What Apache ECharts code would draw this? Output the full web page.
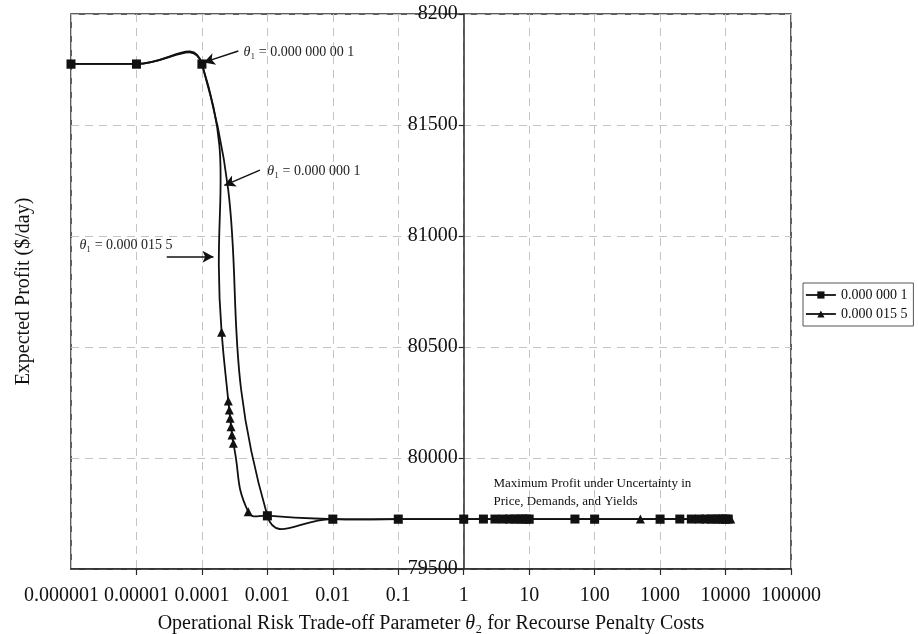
<!DOCTYPE html>
<html>
<head>
<meta charset="utf-8">
<script src="https://cdn.jsdelivr.net/npm/echarts@6/dist/echarts.min.js"></script>
<style>
html,body{margin:0;padding:0;background:#fff;}
#chart{width:918px;height:634px;}
</style>
</head>
<body>
<div id="chart"></div>
<script>
// ---- data ----
const seriesNames = ['0.000 000 1', '0.000 015 5'];
const squareX = [1e-6, 1e-5, 1e-4, 1e-3, 0.01, 0.1, 1, 2, 3, 4, 5, 6, 7, 8, 9, 10, 50, 100, 1000, 2000, 3000, 4000, 5000, 6000, 7000, 8000, 9000, 10000, 11000];
const squareY = [81775, 81775, 81775, 79740, 79725, 79725, 79725, 79725, 79725, 79725, 79725, 79725, 79725, 79725, 79725, 79725, 79725, 79725, 79725, 79725, 79725, 79725, 79725, 79725, 79725, 79725, 79725, 79725, 79725];
const triangleX = [1e-6, 1e-5, 1e-4, 2.0e-4, 2.53e-4, 2.62e-4, 2.7e-4, 2.79e-4, 2.88e-4, 3.02e-4, 5.1e-4, 1e-3, 0.01, 0.1, 1, 10, 100, 500, 1000, 10000, 12000];
const triangleY = [81775, 81775, 81775, 80566, 80257, 80216, 80179, 80141, 80104, 80066, 79758, 79740, 79725, 79725, 79725, 79725, 79725, 79725, 79725, 79725, 79725];
const xTickLabels = ['0.000001', '0.00001', '0.0001', '0.001', '0.01', '0.1', '1', '10', '100', '1000', '10000', '100000'];
const yTickLabels = ['79500', '80000', '80500', '81000', '81500', '8200'];
const annotationTexts = ['0.000 000 00 1', '0.000 000 1', '0.000 015 5'];
const noteLines = ['Maximum Profit under Uncertainty in', 'Price, Demands, and Yields'];

// ---- layout / style ----
const SERIF = '"Liberation Serif", "Times New Roman", serif';
const G = {left: 71, right: 127, top: 14, bottom: 65};
const gridW = 918 - G.left - G.right;
const yAxisOffset = -gridW * 6 / 11;
const INK = '#111';
const SMOOTH = 0.5;

function zip(xs, ys) { return xs.map((x, i) => [x, ys[i]]); }
function xIndex(v) { return Math.round(Math.log10(v)) + 6; }

// Spreadsheet-style smoothed curve drawn through the data points (via the axes' scales)
function smoothRenderer(xs, ys) {
  return function (params, api) {
    const i = params.dataIndex;
    const n = xs.length;
    if (i >= n - 1) return null;
    const P = k => { const j = Math.max(0, Math.min(n - 1, k)); return api.coord([xs[j], ys[j]]); };
    const dist = (a, b) => Math.hypot(a[0] - b[0], a[1] - b[1]);
    function ctrl(k) {
      const p = P(k), prev = P(k - 1), next = P(k + 1);
      const vx = (next[0] - prev[0]) * SMOOTH, vy = (next[1] - prev[1]) * SMOOTH;
      let d0 = dist(p, prev), d1 = dist(p, next);
      const s = d0 + d1;
      if (s > 0) { d0 /= s; d1 /= s; }
      return {inn: [p[0] - vx * d0, p[1] - vy * d0], out: [p[0] + vx * d1, p[1] + vy * d1], p: p};
    }
    const a = ctrl(i), b = ctrl(i + 1);
    return {
      type: 'bezierCurve',
      shape: {x1: a.p[0], y1: a.p[1], x2: b.p[0], y2: b.p[1], cpx1: a.out[0], cpy1: a.out[1], cpx2: b.inn[0], cpy2: b.inn[1]},
      style: {stroke: INK, lineWidth: 1.8, fill: null},
      silent: true
    };
  };
}

const thetaRich = {
  it: {fontFamily: SERIF, fontStyle: 'italic', fontSize: 14, color: '#222'},
  n: {fontFamily: SERIF, fontSize: 14, color: '#222'}
};
function thetaLabel(t) { return '{it|θ}{n|₁ = ' + t + '}'; }

const arrowStyle = {color: INK, width: 1.5, type: 'solid'};
const gridLine = {show: true, lineStyle: {color: '#c4c4c4', type: [8, 6], width: 1}};
const xLabelBase = {interval: 0, margin: 17, fontFamily: SERIF, fontSize: 20, color: INK, hideOverlap: false};

const chart = echarts.init(document.getElementById('chart'), null, {renderer: 'canvas'});
chart.setOption({
  animation: false,
  backgroundColor: '#fff',
  grid: {left: G.left, right: G.right, top: G.top, bottom: G.bottom, show: true, borderColor: '#2a2a2a', borderWidth: 1.5, containLabel: false, outerBoundsMode: 'none'},
  legend: {
    orient: 'vertical', left: 803, top: 283,
    borderColor: '#555', borderWidth: 1, padding: [5, 6, 5, 2],
    itemWidth: 30, itemHeight: 9, itemGap: 5,
    lineStyle: {color: INK, width: 1.8, opacity: 1},
    textStyle: {fontFamily: SERIF, fontSize: 14, color: INK},
    data: seriesNames
  },
  xAxis: [
    {
      type: 'log', logBase: 10, min: 1e-6, max: 1e5, interval: 1, splitNumber: 11,
      name: '{n|Operational Risk Trade-off Parameter }{it|θ}{n|₂ for Recourse Penalty Costs}',
      nameLocation: 'middle', nameGap: 45,
      nameTextStyle: {rich: {
        n: {fontFamily: SERIF, fontSize: 20, color: INK},
        it: {fontFamily: SERIF, fontSize: 20, fontStyle: 'italic', color: INK}
      }},
      axisLine: {show: true, lineStyle: {color: '#2a2a2a', width: 1.5}},
      axisTick: {show: true, length: 6, lineStyle: {color: '#2a2a2a', width: 1.2}},
      minorTick: {show: false},
      axisLabel: Object.assign({}, xLabelBase, {
        showMinLabel: false, showMaxLabel: true,
        formatter: v => xIndex(v) === 0 ? '' : xTickLabels[xIndex(v)]
      }),
      splitLine: gridLine
    },
    {
      // same scale; carries only the first decade label, nudged left like the original
      type: 'log', logBase: 10, min: 1e-6, max: 1e5, interval: 1, splitNumber: 11,
      position: 'bottom',
      axisLine: {show: false}, axisTick: {show: false}, minorTick: {show: false}, splitLine: {show: false},
      axisLabel: Object.assign({}, xLabelBase, {
        showMinLabel: true, showMaxLabel: false,
        padding: [0, 19, 0, 0],
        formatter: v => xIndex(v) === 0 ? xTickLabels[0] : ''
      })
    }
  ],
  yAxis: {
    type: 'value', min: 79500, max: 82000, interval: 500,
    offset: yAxisOffset,
    name: 'Expected Profit ($/day)', nameLocation: 'middle', nameGap: 430,
    nameTextStyle: {fontFamily: SERIF, fontSize: 20, color: INK},
    axisLine: {show: true, lineStyle: {color: '#2a2a2a', width: 1.5}},
    axisTick: {show: true, length: 5, lineStyle: {color: '#2a2a2a', width: 1.2}},
    axisLabel: {
      margin: 6, fontFamily: SERIF, fontSize: 20, color: INK, showMinLabel: true, showMaxLabel: true,
      formatter: v => yTickLabels[Math.round((v - 79500) / 500)]
    },
    splitLine: gridLine
  },
  series: [
    {
      name: 'curve-a', type: 'custom', data: zip(squareX, squareY),
      encode: {x: 0, y: 1}, renderItem: smoothRenderer(squareX, squareY), z: 2, silent: true
    },
    {
      name: 'curve-b', type: 'custom', data: zip(triangleX, triangleY),
      encode: {x: 0, y: 1}, renderItem: smoothRenderer(triangleX, triangleY), z: 2, silent: true
    },
    {
      name: seriesNames[0], type: 'line',
      data: zip(squareX, squareY),
      symbol: 'rect', symbolSize: 9,
      itemStyle: {color: INK},
      lineStyle: {color: INK, width: 1.8, opacity: 0},
      z: 3,
      markLine: {
        silent: true, symbol: ['none', 'arrow'], symbolSize: [9, 11],
        label: {show: false}, lineStyle: arrowStyle, animation: false,
        data: [
          [{coord: [3.6e-4, 81833]}, {coord: [1.07e-4, 81782]}],
          [{coord: [7.7e-4, 81297]}, {coord: [2.2e-4, 81228]}],
          [{coord: [2.9e-5, 80907]}, {coord: [1.5e-4, 80907]}]
        ]
      },
      markPoint: {
        silent: true, symbol: 'circle', symbolSize: 1,
        itemStyle: {color: 'rgba(0,0,0,0)'},
        label: {show: true, position: 'right', distance: 0, rich: thetaRich, color: '#222'},
        data: [
          {coord: [4.25e-4, 81829], label: {formatter: thetaLabel(annotationTexts[0])}},
          {coord: [9.8e-4, 81290], label: {formatter: thetaLabel(annotationTexts[1])}},
          {coord: [1.32e-6, 80956], label: {formatter: thetaLabel(annotationTexts[2])}},
          {coord: [2.8, 79845], label: {formatter: noteLines.join('\n'), fontFamily: SERIF, fontSize: 13, lineHeight: 18, color: INK}}
        ]
      }
    },
    {
      name: seriesNames[1], type: 'line',
      data: zip(triangleX, triangleY),
      symbol: 'triangle', symbolSize: 9,
      itemStyle: {color: INK},
      lineStyle: {color: INK, width: 1.8, opacity: 0},
      z: 4
    }
  ]
});
</script>
</body>
</html>
